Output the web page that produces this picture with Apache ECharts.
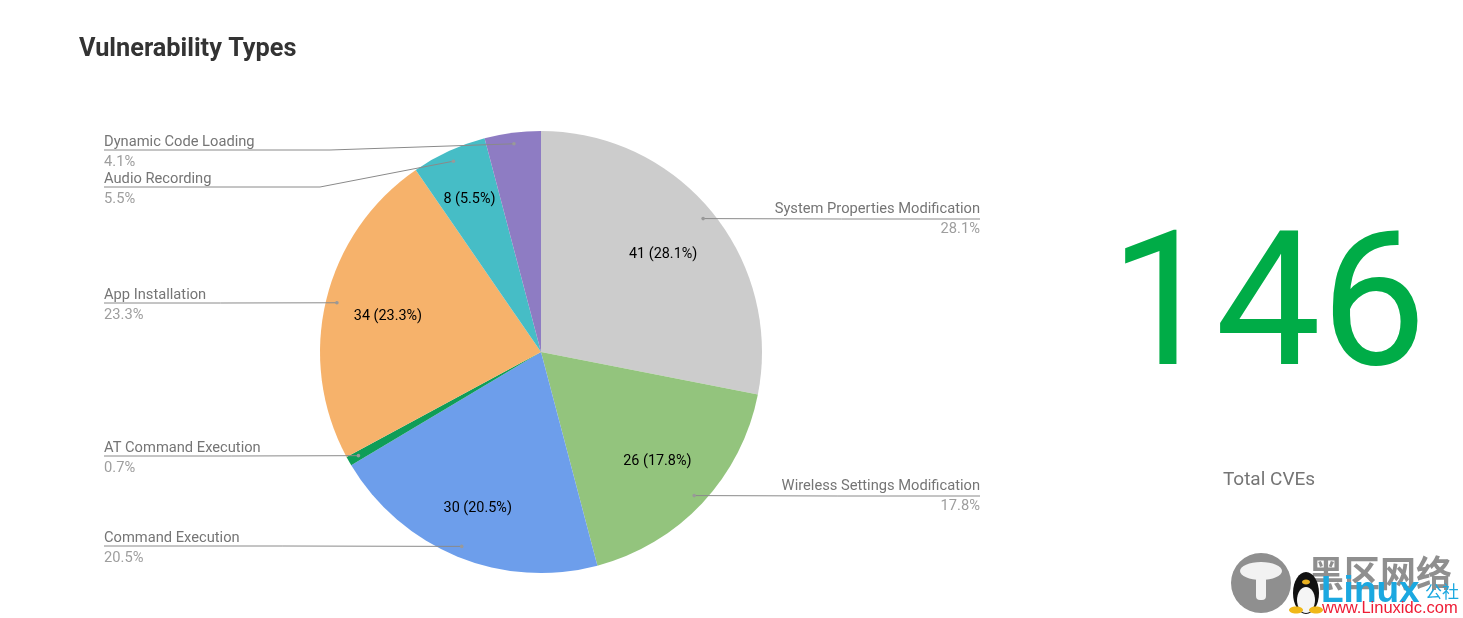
<!DOCTYPE html>
<html>
<head>
<meta charset="utf-8">
<title>Vulnerability Types</title>
<script src="https://cdn.jsdelivr.net/npm/echarts@6/dist/echarts.min.js"></script>
<style>
html,body{margin:0;padding:0;background:#fff;}
#chartmain{width:1463px;height:618px;}
</style>
</head>
<body>
<div id="chartmain"></div>
<script>
// labelY = y of the leader line, side = which column the text sits in
// dx/dy nudge the inner label, kink = where the line bends if it isn't flat
var rows = [
    {name:'System Properties Modification', value:41, color:'#cccccc', side:'right', inner:true, dx:-1, dy:4},
    {name:'Wireless Settings Modification', value:26, color:'#93c47d', side:'right', inner:true},
    {name:'Command Execution', value:30, color:'#6d9eeb', side:'left', labelY:546, inner:true, dx:-3, dy:9},
    {name:'AT Command Execution', value:1, color:'#0f9d58', side:'left'},
    {name:'App Installation', value:34, color:'#f6b26b', side:'left', inner:true, dx:2, dy:2},
    {name:'Audio Recording', value:8, color:'#46bdc6', side:'left', labelY:187, kink:320, inner:true, dx:-5, dy:-8},
    {name:'Dynamic Code Loading', value:6, color:'#8e7cc3', side:'left', labelY:150, kink:330}
];

var cx = 541, cy = 352, R = 221;
var leftX = 104, rightX = 980;

var total = 0;
rows.forEach(function(r){ total += r.value; });

// leader line anchor sits at 95% of the radius, in the middle of the slice
var sum = 0;
rows.forEach(function(r){
    var a = (sum + r.value / 2) / total * Math.PI * 2;
    r.ax = cx + R * 0.95 * Math.sin(a);
    r.ay = cy - R * 0.95 * Math.cos(a);
    if (r.labelY === undefined) r.labelY = Math.round(r.ay);
    sum += r.value;
});

var graphics = rows.map(function(r){
    return {type:'circle', z:100, shape:{cx:r.ax, cy:r.ay, r:1.8}, style:{fill:'#999999'}};
});

// site watermark, bottom right corner
graphics = graphics.concat([
    {type:'circle', z:100, shape:{cx:1261, cy:583, r:30}, style:{fill:'#8f8f8f'}},
    {type:'ellipse', z:101, shape:{cx:1261, cy:571, rx:21, ry:9}, style:{fill:'#f2f2f2'}},
    {type:'rect', z:101, shape:{x:1256, y:576, width:10, height:24, r:4}, style:{fill:'#f2f2f2'}},
    {type:'text', z:100, style:{x:1308, y:573, text:'黑区网络', fill:'#8f8f8f', font:'700 36px "Noto Sans CJK SC"', textVerticalAlign:'middle'}},
    {type:'text', z:102, style:{x:1321, y:592, text:'Linux', fill:'#1ba8e0', font:'700 37px "Liberation Sans"', textVerticalAlign:'middle'}},
    {type:'text', z:102, style:{x:1425, y:592, text:'公社', fill:'#1ba8e0', font:'17px "Noto Sans CJK SC"', textVerticalAlign:'middle'}},
    {type:'text', z:103, style:{x:1322, y:608, text:'www.Linuxidc.com', fill:'#ee1c35', font:'16.5px "Liberation Sans"', textVerticalAlign:'middle'}},
    {type:'ellipse', z:103, shape:{cx:1306, cy:593, rx:13, ry:21}, style:{fill:'#111111'}},
    {type:'ellipse', z:104, shape:{cx:1306, cy:600, rx:9, ry:13}, style:{fill:'#f5f5f5'}},
    {type:'ellipse', z:105, shape:{cx:1306, cy:582, rx:4, ry:2.5}, style:{fill:'#e8b020'}},
    {type:'ellipse', z:105, shape:{cx:1296, cy:610, rx:7, ry:3.5}, style:{fill:'#f0b818'}},
    {type:'ellipse', z:105, shape:{cx:1316, cy:610, rx:7, ry:3.5}, style:{fill:'#f0b818'}}
]);

var option = {
    animation: false,
    title: [
        {text:'Vulnerability Types', left:74, top:32, textStyle:{fontFamily:'Roboto', fontSize:25.3, fontWeight:700, color:'#333333'}},
        {text:'146', left:1263, top:218, textAlign:'center', textStyle:{fontFamily:'Roboto', fontSize:188, fontWeight:400, color:'#00ac47'}},
        {text:'Total CVEs', left:1264, top:466, textAlign:'center', textStyle:{fontFamily:'Roboto', fontSize:19, fontWeight:400, color:'#757575'}}
    ],
    graphic: graphics,
    series: [
        {
            // the visible slices
            type:'pie',
            z:1,
            radius:R,
            center:[cx, cy],
            startAngle:90,
            silent:true,
            label:{show:false},
            labelLine:{show:false},
            itemStyle:{borderWidth:0},
            data: rows.map(function(r){
                return {name:r.name, value:r.value, itemStyle:{color:r.color}};
            })
        },
        {
            // see-through copy on top, so leader lines run over the slices
            type:'pie',
            z:2,
            radius:R,
            center:[cx, cy],
            startAngle:90,
            percentPrecision:1,
            avoidLabelOverlap:false,
            silent:true,
            itemStyle:{color:'rgba(0,0,0,0)', borderWidth:0},
            label:{
                show:true,
                position:'outer',
                formatter:'{n|{b}}\n{p|{d}%}',
                rich:{
                    n:{fontFamily:'Roboto', fontSize:14.7, lineHeight:20, color:'#757575'},
                    p:{fontFamily:'Roboto', fontSize:14.7, lineHeight:20, color:'#9e9e9e'}
                }
            },
            labelLine:{show:true, smooth:false, lineStyle:{color:'#8a8a8a', width:1}},
            labelLayout:function(params){
                var r = rows[params.dataIndex];
                var x = r.side === 'left' ? leftX : rightX;
                var bend = r.kink !== undefined ? r.kink : (x + r.ax) / 2;
                return {
                    x:x,
                    y:r.labelY + (r.side === 'left' ? 2 : 0.5),
                    align:r.side,
                    verticalAlign:'middle',
                    hideOverlap:false,
                    labelLinePoints:[[r.ax, r.ay], [bend, r.labelY], [x, r.labelY]]
                };
            },
            data: rows.map(function(r){
                return {name:r.name, value:r.value};
            })
        },
        {
            // see-through ring, only carries the "41 (28.1%)" labels
            type:'pie',
            z:3,
            radius:[92, R],
            center:[cx, cy],
            startAngle:90,
            percentPrecision:1,
            silent:true,
            avoidLabelOverlap:false,
            itemStyle:{color:'rgba(0,0,0,0)', borderWidth:0},
            labelLine:{show:false},
            labelLayout:function(params){
                var r = rows[params.dataIndex];
                return {dx:r.dx || 0, dy:r.dy || 0};
            },
            data: rows.map(function(r){
                return {
                    name:r.name,
                    value:r.value,
                    label:{
                        show:!!r.inner,
                        position:'inside',
                        formatter:'{c} ({d}%)',
                        fontFamily:'Roboto',
                        fontSize:14.4,
                        color:'#000000'
                    }
                };
            })
        }
    ]
};

var myChart = echarts.init(document.getElementById("chartmain"));
myChart.setOption(option);
</script>
</body>
</html>
